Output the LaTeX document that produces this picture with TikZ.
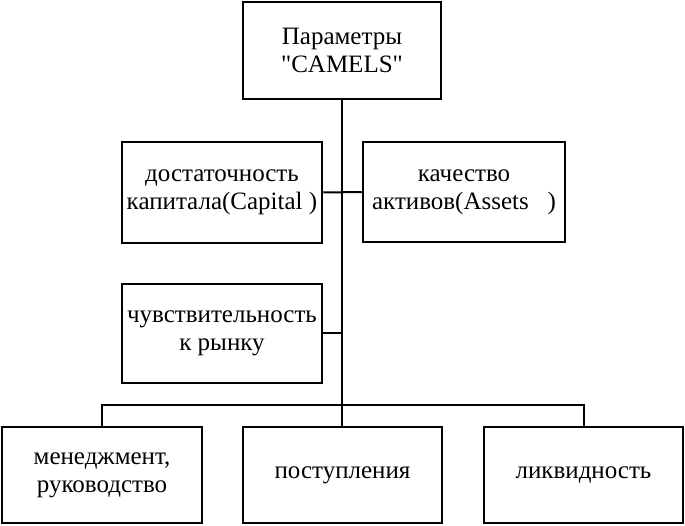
\documentclass[tikz,border=0pt]{standalone}
\usepackage{fontspec}
\setmainfont{Liberation Serif}
\usetikzlibrary{positioning, calc}

\begin{document}
\begin{tikzpicture}[
  x=1pt, y=1pt,
  every node/.style={font=\fontsize{25}{28}\selectfont},
  param/.style={rectangle, draw, line width=2.5pt, align=center, inner sep=0pt},
  link/.style={line width=2pt},
]
\useasboundingbox (0,0) rectangle (685,-526);

% Root
\node[param, minimum width=198, minimum height=97] (camels) at (342,-50.5) {Параметры\\\textquotedbl CAMELS\textquotedbl};

% Middle level
\node[param, minimum width=200, minimum height=101] (capital) at (222,-192.5) {достаточность\\капитала(Capital\ )};
\node[param, minimum width=202, minimum height=100] (assets) at (464,-192) {качество\\активов(Assets\ \ \ )};
\node[param, minimum width=200, minimum height=99] (market) at (222,-333.5) {чувствительность\\к рынку};

% Bottom level
\node[param, minimum width=200, minimum height=96] (mgmt) at (102,-475) {менеджмент,\\руководство};
\node[param, minimum width=199, minimum height=96] (earn) at (342.5,-475) {поступления};
\node[param, minimum width=199, minimum height=96] (liq) at (583.5,-475) {ликвидность};

% Connectors
\coordinate (bus) at (camels.south |- 0,-405);
\draw[link] (camels.south) -- (camels.south |- earn.north);
\draw[link] (capital.east) -- (assets.west);
\draw[link] (market.east) -- (market.east -| camels.south);
\draw[link] (mgmt.north) |- (bus) -| (liq.north);

\end{tikzpicture}
\end{document}
